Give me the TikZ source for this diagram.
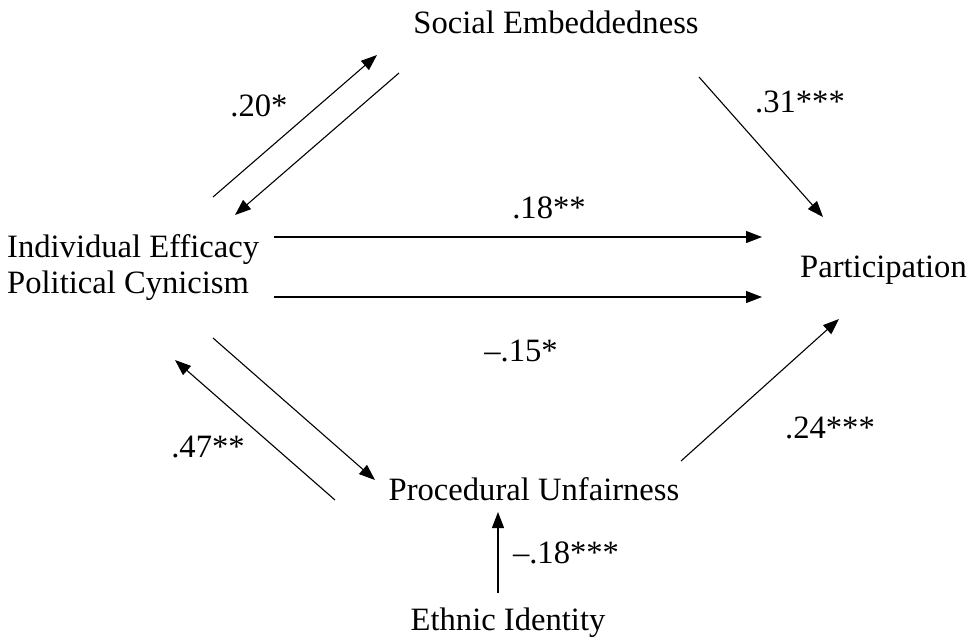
\documentclass[tikz,border=0pt]{standalone}
\usepackage{fontspec}
\setmainfont{Liberation Serif}
\usetikzlibrary{arrows.meta}
\tikzset{
    every node/.style={inner sep=0pt, font=\fontsize{32.6}{39}\selectfont}
}
\tikzset{
    arr/.style={-{Triangle[length=16pt,width=12pt]}, line width=1.1pt}
}

\begin{document}
\begin{tikzpicture}[x=1pt,y=-1pt]
  \useasboundingbox (0,0) rectangle (974,638);
  \node[anchor=base] (se) at (556,33) {Social Embeddedness};
  \node[anchor=base west] (ie) at (7,257) {Individual Efficacy};
  \node[anchor=base west] (pc) at (7,293) {Political Cynicism};
  \node[anchor=base west] (pa) at (800,277) {Participation};
  \node[anchor=base] (pu) at (534,500) {Procedural Unfairness};
  \node[anchor=base] (ei) at (508,630) {Ethnic Identity};

  \node[anchor=base] (l20) at (259,116) {.20*};
  \node[anchor=base] (l31) at (800,112) {.31***};
  \node[anchor=base] (l18) at (549,218) {.18**};
  \node[anchor=base] (l15) at (521,361) {--.15*};
  \node[anchor=base] (l24) at (830,438) {.24***};
  \node[anchor=base] (l47) at (208,457) {.47**};
  \node[anchor=base] (l18b) at (566,563) {--.18***};

  \coordinate (ie1) at (213,197); \coordinate (se1) at (377,55);
  \coordinate (se2) at (399,73);  \coordinate (ie2) at (235,215);
  \coordinate (se3) at (699,77);  \coordinate (pa1) at (823,217);
  \coordinate (ie3) at (274,237); \coordinate (pa2) at (762,237);
  \coordinate (pc1) at (274,297); \coordinate (pa3) at (762,297);
  \coordinate (pu1) at (681,461); \coordinate (pa4) at (839,319);
  \coordinate (pc2) at (213,338); \coordinate (pu2) at (375,480);
  \coordinate (pu3) at (335,500); \coordinate (pc3) at (175,360);
  \coordinate (ei1) at (498,593); \coordinate (pu4) at (498,512);

  \draw[arr] (ie1) -- (se1); \draw[arr] (se2) -- (ie2);
  \draw[arr] (se3) -- (pa1); \draw[arr] (ie3) -- (pa2);
  \draw[arr] (pc1) -- (pa3); \draw[arr] (pu1) -- (pa4);
  \draw[arr] (pc2) -- (pu2); \draw[arr] (pu3) -- (pc3);
  \draw[arr] (ei1) -- (pu4);
\end{tikzpicture}
\end{document}
